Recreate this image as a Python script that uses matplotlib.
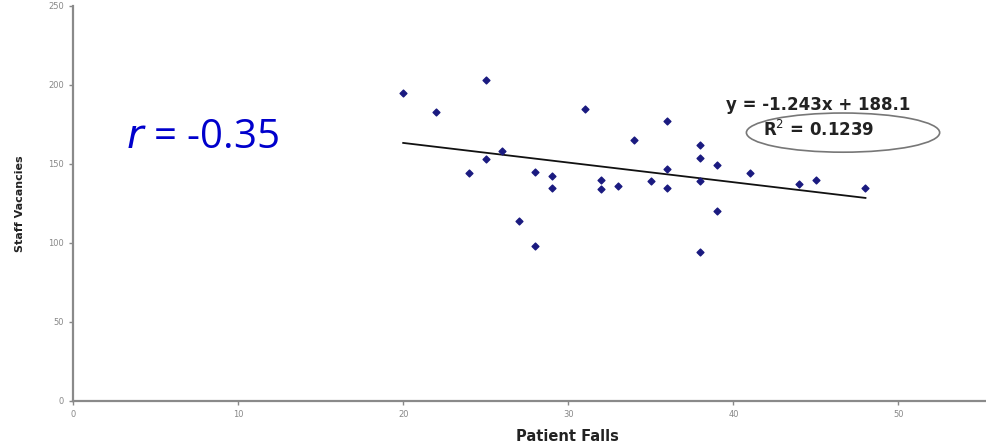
import matplotlib
matplotlib.use("Agg")
import matplotlib.pyplot as plt
from matplotlib.patches import Ellipse
import numpy as np

# falls vs vacancies per unit
patient_falls = [20, 22, 25, 31, 26, 25, 24, 28, 29, 29, 32, 32, 33, 27, 28,
                 36, 34, 38, 38, 39, 36, 41, 35, 36, 38, 39, 38, 44, 45, 48]
staff_vacancies = [195, 183, 203, 185, 158, 153, 144, 145, 142, 135, 140, 134, 136, 114, 98,
                   177, 165, 162, 154, 149, 147, 144, 139, 135, 139, 120, 94, 137, 140, 135]

# trendline as reported
slope = -1.243
intercept = 188.1
r_squared = 0.1239
r_value = -0.35

fig = plt.figure(figsize=(9.86, 4.45), dpi=100)
ax = fig.add_axes([0.074, 0.099, 0.926, 0.888])

ax.scatter(patient_falls, staff_vacancies, marker="D", s=12, color="#1a1a80", zorder=3)

xs = np.array([min(patient_falls), max(patient_falls)])
ax.plot(xs, slope * xs + intercept, color="#111111", lw=1.3, zorder=2)

ax.set_xlim(0, 55.3)
ax.set_ylim(0, 250)
ax.set_xticks([0, 10, 20, 30, 40, 50])
ax.set_yticks([0, 50, 100, 150, 200, 250])
ax.tick_params(labelsize=6, colors="#888888", length=3, width=1, direction="out")
for s in ["top", "right"]:
    ax.spines[s].set_visible(False)
for s in ["left", "bottom"]:
    ax.spines[s].set_color("#8a8a8a")
    ax.spines[s].set_linewidth(1.6)

fig.text(0.575, 0.02, "Patient Falls", fontsize=10.5, fontweight="bold",
         color="#222222", ha="center", va="center")
ax.set_ylabel("Staff Vacancies", fontsize=8, fontweight="bold", color="#222222")
ax.yaxis.set_label_coords(-0.052, 0.5)

fig.text(0.830, 0.764, f"y = {slope}x + {intercept}", fontsize=12,
         fontweight="bold", color="#222222", ha="center", va="center")
fig.text(0.830, 0.708, f"R$^2$ = {r_squared}", fontsize=12,
         fontweight="bold", color="#222222", ha="center", va="center")
fig.add_artist(Ellipse((0.855, 0.702), 0.196, 0.088, transform=fig.transFigure,
                       fill=False, edgecolor="#777777", lw=1.2))

fig.text(0.128, 0.69, "$\\it{r}$ = " + str(r_value), fontsize=29, color="#0000cc",
         family="Open Sans", va="center", ha="left")

fig.savefig("out.png", dpi=100)
